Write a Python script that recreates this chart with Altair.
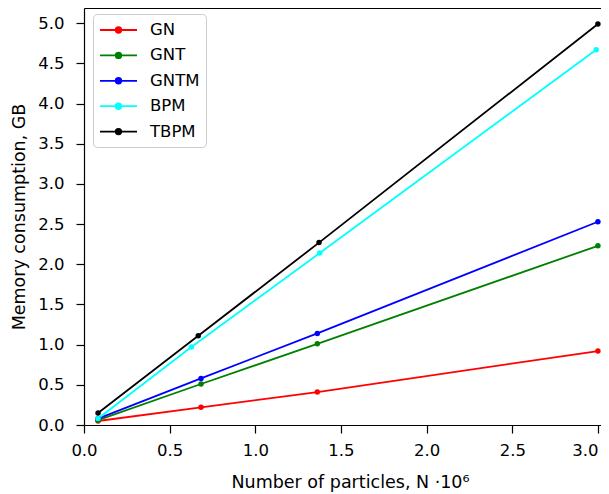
import altair as alt
import pandas as pd

series = ["GN", "GNT", "GNTM", "BPM", "TBPM"]
colors = ["#ff0000", "#008000", "#0000ff", "#00ffff", "#000000"]

x_gn = [0.082, 0.683, 1.362, 3.0]
y_gn = [0.05, 0.22, 0.41, 0.92]
x_gnt = [0.082, 0.683, 1.362, 3.0]
y_gnt = [0.06, 0.51, 1.01, 2.23]
x_gntm = [0.082, 0.683, 1.362, 3.0]
y_gntm = [0.08, 0.58, 1.14, 2.53]
x_bpm = [0.082, 0.627, 1.376, 2.99]
y_bpm = [0.08, 0.97, 2.14, 4.67]
x_tbpm = [0.082, 0.667, 1.372, 3.0]
y_tbpm = [0.15, 1.11, 2.27, 4.99]

x_ticks = [0.0, 0.5, 1.0, 1.5, 2.0, 2.5, 3.0]
y_ticks = [0.0, 0.5, 1.0, 1.5, 2.0, 2.5, 3.0, 3.5, 4.0, 4.5, 5.0]

rows = []
for name, xs, ys in [("GN", x_gn, y_gn), ("GNT", x_gnt, y_gnt), ("GNTM", x_gntm, y_gntm),
                     ("BPM", x_bpm, y_bpm), ("TBPM", x_tbpm, y_tbpm)]:
    for xv, yv in zip(xs, ys):
        rows.append({"series": name, "x": xv, "y": yv})
df = pd.DataFrame(rows)

FONT = "DejaVu Sans"
FS = 16.5
TFS = 17.5
xscale = alt.Scale(domain=[0, 3.018], nice=False, zero=False)
yscale = alt.Scale(domain=[0, 5.19], nice=False)

# line from -1..3.11 (units of half symbol width), dot in the middle
legend_symbol = ("M-1,0H3.11M0.745,0a0.31,0.31 0 1,0 0.62,0"
                 "a0.31,0.31 0 1,0 -0.62,0")

lines = alt.Chart(df).mark_line(
    strokeWidth=1.8,
    point=alt.OverlayMarkDef(size=30, filled=True, opacity=1),
).encode(
    x=alt.X("x:Q", scale=xscale,
            axis=alt.Axis(orient="bottom", values=x_ticks, format=".1f",
                          title="Number of particles, N \u00b710\u2076",
                          titleX=266,
                          labelAlign=alt.ExprRef(expr="datum.value >= 3 ? 'right' : 'center'"),
                          tickSize=8, labelPadding=9, titlePadding=15)),
    y=alt.Y("y:Q", scale=yscale,
            axis=alt.Axis(values=y_ticks, format=".1f",
                          title="Memory consumption, GB",
                          tickSize=8, labelPadding=12, titlePadding=9)),
    color=alt.Color("series:N",
                    scale=alt.Scale(domain=series, range=colors),
                    legend=alt.Legend(
                        title=None, orient="none", legendX=9, legendY=6,
                        symbolType=legend_symbol, symbolSize=324,
                        symbolStrokeWidth=1.8, labelFontSize=FS, labelFont=FONT,
                        labelColor="black",
                        labelOffset=31, rowPadding=6.4, padding=6,
                        strokeColor="#cccccc", fillColor="white", cornerRadius=4,
                    )),
)

top_spine = alt.Chart(df).mark_point(opacity=0).encode(
    x=alt.X("x:Q", scale=xscale,
            axis=alt.Axis(orient="top", labels=False, ticks=False, title=None,
                          domainColor="black")),
    y=alt.Y("y:Q", scale=yscale),
)

chart = alt.layer(lines, top_spine).properties(
    width=517, height=417,
    autosize=alt.AutoSizeParams(type="none"),
    padding={"left": 76, "top": 0, "right": 0, "bottom": 68},
).configure_view(stroke=None).configure_axis(
    grid=False, domainColor="black", tickColor="black", domainWidth=1.2, tickWidth=1.2,
    labelFont=FONT, titleFont=FONT, labelFontSize=FS, titleFontSize=TFS,
    labelColor="black", titleColor="black", titleFontWeight="normal",
)

chart.save("out.html", embed_options={"renderer": "svg", "actions": False})
